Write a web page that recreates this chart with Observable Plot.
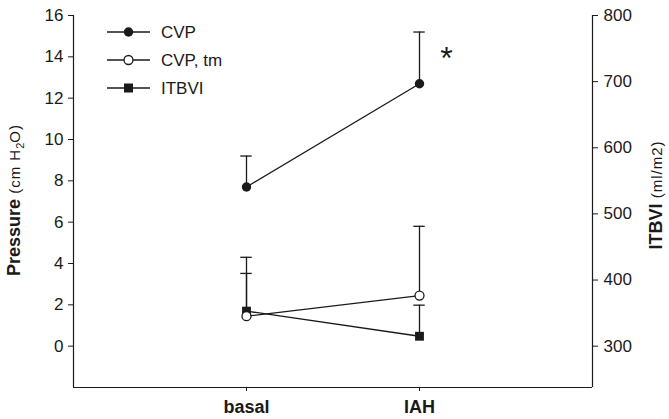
<!DOCTYPE html>
<html><head><meta charset="utf-8">
<script src="https://cdn.jsdelivr.net/npm/d3@7"></script>
<script src="https://cdn.jsdelivr.net/npm/@observablehq/plot@0.6"></script>
<style>
body{margin:0;background:#fff}
#c{position:relative;width:669px;height:419px}
</style>
</head><body><div id="c"></div>
<script>
// Categories and values (means and upper SD bars)
const categories = ["basal", "IAH"];
const cvp = [7.7, 12.7];
const cvpUpper = [9.2, 15.2];
const cvpTm = [1.45, 2.45];
const cvpTmUpper = [4.3, 5.8];
const itbvi = [353, 315];
const itbviUpper = [410, 362];
const pressureTicks = [0, 2, 4, 6, 8, 10, 12, 14, 16];
const itbviTicks = [300, 400, 500, 600, 700, 800];
const seriesNames = ["CVP", "CVP, tm", "ITBVI"];

// ITBVI is drawn against the right axis: 300 ml/m2 <-> 0 cmH2O, 800 <-> 16
const toP = v => (v - 300) / 31.25;
const fromP = p => 300 + p * 31.25;

function rows(vals, upper, conv = d => d) {
  return categories.map((c, i) => ({x: i + 1, cat: c, y: conv(vals[i]), hi: conv(upper[i])}));
}
const dCvp = rows(cvp, cvpUpper);
const dTm = rows(cvpTm, cvpTmUpper);
const dIt = rows(itbvi, itbviUpper, toP);
const all = [...dCvp, ...dTm, ...dIt];
const capW = 0.033;

const font = "'Liberation Sans', Arial, sans-serif";
const ink = "#1a1a1a";

const chart = Plot.plot({
  width: 669, height: 419,
  marginLeft: 73, marginRight: 77, marginTop: 15, marginBottom: 32,
  x: {domain: [0, 3]},
  y: {domain: [-2, 16]},
  style: {fontFamily: font, fontSize: "17px", color: ink, background: "#fff"},
  marks: [
    Plot.ruleX([0], {y1: -2, y2: 16, stroke: ink, strokeWidth: 1.2}),
    Plot.ruleX([3], {y1: -2, y2: 16, stroke: ink, strokeWidth: 1.2}),
    Plot.ruleY([-2], {x1: 0, x2: 3, stroke: ink, strokeWidth: 1.2}),
    Plot.axisY({ticks: pressureTicks, tickSize: 5, tickPadding: 5, label: null, fontSize: 17}),
    Plot.axisY({anchor: "right", ticks: itbviTicks.map(toP), tickFormat: p => String(Math.round(fromP(p))), tickSize: 5, tickPadding: 6, label: null, fontSize: 17}),
    Plot.axisX({ticks: [1, 2], tickFormat: i => categories[i - 1], tickSize: 4, tickPadding: 9, label: null, fontSize: 18, fontWeight: "bold"}),
    // error bars
    Plot.ruleX(all, {x: "x", y1: "y", y2: "hi", stroke: ink, strokeWidth: 1.3}),
    Plot.ruleY(all, {y: "hi", x1: d => d.x - capW, x2: d => d.x + capW, stroke: ink, strokeWidth: 1.3}),
    // lines
    Plot.line(dCvp, {x: "x", y: "y", stroke: ink, strokeWidth: 1.3}),
    Plot.line(dTm, {x: "x", y: "y", stroke: ink, strokeWidth: 1.3}),
    Plot.line(dIt, {x: "x", y: "y", stroke: ink, strokeWidth: 1.3}),
    // markers
    Plot.dot(dIt, {x: "x", y: "y", symbol: "square", r: 5, fill: ink, stroke: "none"}),
    Plot.dot(dTm, {x: "x", y: "y", r: 4.5, fill: "#fff", stroke: ink, strokeWidth: 1.3}),
    Plot.dot(dCvp, {x: "x", y: "y", r: 4.7, fill: ink, stroke: "none"}),
    // significance marker
    Plot.text(dCvp.filter(d => d.cat === "IAH"), {x: "x", y: "hi", text: () => "*", dx: 27, dy: 27, fontSize: 32, fill: ink})
  ]
});
document.getElementById("c").appendChild(chart);

const svg = d3.select(chart);
// left title
const lt = svg.append("text").attr("transform", "translate(20,200) rotate(-90)")
  .attr("text-anchor", "middle").attr("fill", ink).style("font-family", font);
lt.append("tspan").attr("font-weight", "bold").attr("font-size", 18).text("Pressure");
lt.append("tspan").attr("font-size", 15).attr("letter-spacing", 1).text(" (cm H");
lt.append("tspan").attr("font-size", 11).attr("dy", 4).text("2");
lt.append("tspan").attr("font-size", 15).attr("letter-spacing", 1).attr("dy", -4).text("O)");
// right title
const rt = svg.append("text").attr("transform", "translate(662,195) rotate(-90)")
  .attr("text-anchor", "middle").attr("fill", ink).style("font-family", font);
rt.append("tspan").attr("font-weight", "bold").attr("font-size", 18).text("ITBVI");
rt.append("tspan").attr("font-size", 15).attr("letter-spacing", 1).text(" (ml/m2)");

// legend
const lg = svg.append("g").style("font-family", font);
const symbols = ["fill", "open", "square"];
seriesNames.forEach((name, i) => {
  const y = 32 + i * 28;
  lg.append("line").attr("x1", 107).attr("x2", 150).attr("y1", y).attr("y2", y).attr("stroke", ink).attr("stroke-width", 1.3);
  if (symbols[i] === "square") lg.append("rect").attr("x", 124).attr("y", y - 4.5).attr("width", 9).attr("height", 9).attr("fill", ink);
  else lg.append("circle").attr("cx", 128.5).attr("cy", y).attr("r", symbols[i] === "open" ? 4.5 : 4.7)
    .attr("fill", symbols[i] === "open" ? "#fff" : ink).attr("stroke", ink).attr("stroke-width", symbols[i] === "open" ? 1.3 : 0);
  lg.append("text").attr("x", 161).attr("y", y + 6).attr("text-anchor", "start").attr("font-size", 17).attr("fill", ink).text(name);
});
</script>
</body></html>
